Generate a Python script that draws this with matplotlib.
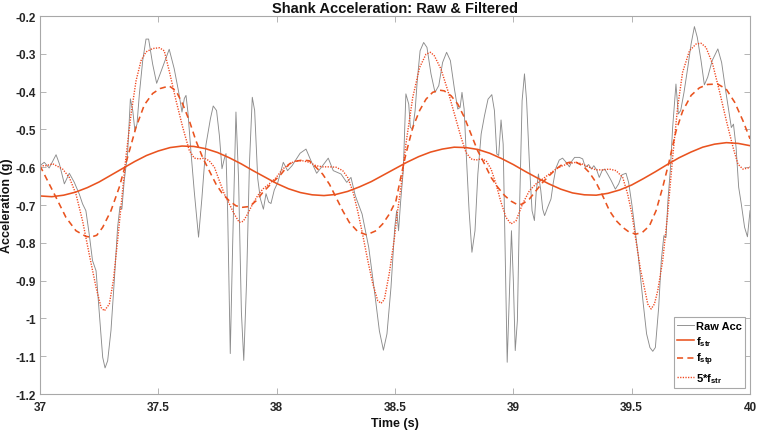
import matplotlib
matplotlib.use("Agg")
import matplotlib.pyplot as plt
from matplotlib.ticker import FuncFormatter

plt.rcParams['font.family'] = ['Liberation Sans', 'DejaVu Sans']
plt.rcParams['font.weight'] = 'bold'
plt.rcParams['axes.unicode_minus'] = False
plt.rcParams['mathtext.fontset'] = 'custom'
plt.rcParams['mathtext.rm'] = 'Liberation Sans:bold'
plt.rcParams['mathtext.bf'] = 'Liberation Sans:bold'
plt.rcParams['mathtext.it'] = 'Liberation Sans:bold'

# ---------------- data ----------------
raw_time = [37.000, 37.018, 37.039, 37.068, 37.082, 37.103, 37.124, 37.145, 37.166, 37.180,
            37.194, 37.208, 37.222, 37.237, 37.251, 37.265, 37.275, 37.286, 37.300, 37.314,
            37.328, 37.338, 37.346, 37.356, 37.370, 37.382, 37.392, 37.401, 37.410, 37.420,
            37.434, 37.448, 37.459, 37.476, 37.493, 37.546, 37.567, 37.586, 37.600, 37.610,
            37.617, 37.625, 37.638, 37.652, 37.670, 37.684, 37.701, 37.720, 37.732, 37.746,
            37.758, 37.769, 37.779, 37.786, 37.793, 37.804, 37.814, 37.828, 37.839, 37.851,
            37.861, 37.873, 37.885, 37.897, 37.907, 37.920, 37.931, 37.944, 37.955, 37.966,
            37.976, 37.990, 38.005, 38.028, 38.046, 38.065, 38.099, 38.124, 38.145, 38.169,
            38.194, 38.218, 38.239, 38.272, 38.296, 38.314, 38.332, 38.361, 38.389, 38.413,
            38.434, 38.451, 38.466, 38.483, 38.499, 38.507, 38.515, 38.524, 38.535, 38.546,
            38.558, 38.565, 38.575, 38.585, 38.594, 38.606, 38.621, 38.635, 38.652, 38.669,
            38.685, 38.701, 38.718, 38.734, 38.751, 38.765, 38.775, 38.783, 38.792, 38.801,
            38.813, 38.825, 38.838, 38.850, 38.864, 38.878, 38.893, 38.909, 38.920, 38.930,
            38.938, 38.948, 38.957, 38.965, 38.974, 38.983, 38.992, 39.000, 39.008, 39.017,
            39.025, 39.037, 39.047, 39.056, 39.068, 39.079, 39.089, 39.097, 39.106, 39.116,
            39.124, 39.132, 39.145, 39.159, 39.169, 39.180, 39.194, 39.208, 39.223, 39.237,
            39.248, 39.259, 39.279, 39.293, 39.304, 39.318, 39.330, 39.340, 39.352, 39.363,
            39.375, 39.386, 39.400, 39.414, 39.431, 39.445, 39.459, 39.476, 39.487, 39.501,
            39.515, 39.527, 39.549, 39.563, 39.577, 39.589, 39.600, 39.614, 39.625, 39.636,
            39.645, 39.653, 39.663, 39.673, 39.687, 39.697, 39.707, 39.721, 39.737, 39.751,
            39.765, 39.777, 39.793, 39.807, 39.821, 39.840, 39.864, 39.880, 39.896, 39.910,
            39.921, 39.930, 39.941, 39.952, 39.963, 39.977, 39.989, 40.000]
raw_acc = [-0.596, -0.587, -0.602, -0.567, -0.591, -0.644, -0.616, -0.640, -0.671, -0.697,
           -0.715, -0.777, -0.847, -0.874, -0.988, -1.103, -1.131, -1.112, -1.032, -0.900,
           -0.759, -0.704, -0.711, -0.635, -0.565, -0.419, -0.450, -0.503, -0.486, -0.406,
           -0.318, -0.261, -0.261, -0.327, -0.378, -0.288, -0.339, -0.401, -0.454, -0.418,
           -0.410, -0.454, -0.560, -0.665, -0.785, -0.683, -0.542, -0.472, -0.438, -0.450,
           -0.516, -0.604, -0.577, -0.564, -0.719, -1.093, -0.807, -0.454, -0.630, -0.983,
           -1.111, -0.900, -0.591, -0.415, -0.450, -0.630, -0.683, -0.711, -0.670, -0.692,
           -0.696, -0.660, -0.640, -0.587, -0.609, -0.596, -0.563, -0.552, -0.583, -0.616,
           -0.596, -0.576, -0.609, -0.618, -0.640, -0.627, -0.675, -0.724, -0.812, -0.927,
           -1.033, -1.084, -1.041, -0.918, -0.759, -0.715, -0.768, -0.689, -0.609, -0.406,
           -0.433, -0.495, -0.499, -0.450, -0.371, -0.292, -0.270, -0.283, -0.353, -0.402,
           -0.384, -0.323, -0.296, -0.318, -0.393, -0.446, -0.442, -0.402, -0.446, -0.565,
           -0.715, -0.825, -0.768, -0.618, -0.512, -0.464, -0.420, -0.408, -0.450, -0.565,
           -0.569, -0.475, -0.539, -0.812, -1.116, -0.944, -0.768, -0.900, -1.085, -1.006,
           -0.741, -0.424, -0.353, -0.424, -0.592, -0.715, -0.741, -0.662, -0.618, -0.662,
           -0.711, -0.728, -0.706, -0.684, -0.640, -0.602, -0.581, -0.576, -0.587, -0.599,
           -0.583, -0.574, -0.574, -0.578, -0.600, -0.593, -0.605, -0.596, -0.607, -0.627,
           -0.609, -0.605, -0.620, -0.636, -0.658, -0.644, -0.620, -0.616, -0.640, -0.700,
           -0.770, -0.830, -0.962, -1.041, -1.077, -1.087, -1.077, -0.971, -0.847, -0.781,
           -0.786, -0.689, -0.609, -0.495, -0.380, -0.459, -0.450, -0.402, -0.336, -0.274,
           -0.228, -0.256, -0.318, -0.382, -0.362, -0.318, -0.287, -0.323, -0.393, -0.450,
           -0.495, -0.486, -0.547, -0.653, -0.697, -0.759, -0.784, -0.715]

fstr_time = [37.00, 37.05, 37.10, 37.15, 37.20, 37.25, 37.30, 37.35, 37.40, 37.45,
             37.50, 37.55, 37.60, 37.65, 37.70, 37.75, 37.80, 37.85, 37.90, 37.95,
             38.00, 38.05, 38.10, 38.15, 38.20, 38.25, 38.30, 38.35, 38.40, 38.45,
             38.50, 38.55, 38.60, 38.65, 38.70, 38.75, 38.80, 38.85, 38.90, 38.95,
             39.00, 39.05, 39.10, 39.15, 39.20, 39.25, 39.30, 39.35, 39.40, 39.45,
             39.50, 39.55, 39.60, 39.65, 39.70, 39.75, 39.80, 39.85, 39.90, 39.95, 40.00]
fstr_acc = [-0.676, -0.678, -0.674, -0.666, -0.654, -0.639, -0.621, -0.603, -0.585, -0.569,
            -0.557, -0.548, -0.544, -0.545, -0.551, -0.561, -0.575, -0.591, -0.609, -0.626,
            -0.643, -0.657, -0.667, -0.673, -0.675, -0.672, -0.664, -0.652, -0.638, -0.621,
            -0.604, -0.587, -0.572, -0.560, -0.552, -0.547, -0.548, -0.553, -0.563, -0.577,
            -0.593, -0.611, -0.628, -0.644, -0.658, -0.668, -0.673, -0.674, -0.669, -0.660,
            -0.647, -0.630, -0.612, -0.593, -0.575, -0.560, -0.547, -0.539, -0.535, -0.537, -0.543]

fstp_time = [37.000, 37.025, 37.068, 37.110, 37.152, 37.194, 37.215, 37.240, 37.265, 37.300,
             37.335, 37.370, 37.406, 37.441, 37.476, 37.507, 37.546, 37.575, 37.603, 37.631,
             37.659, 37.687, 37.715, 37.744, 37.772, 37.800, 37.828, 37.856, 37.885, 37.913,
             37.941, 37.976, 38.014, 38.054, 38.082, 38.110, 38.138, 38.166, 38.194, 38.223,
             38.251, 38.279, 38.307, 38.342, 38.380, 38.420, 38.448, 38.476, 38.504, 38.525,
             38.546, 38.575, 38.604, 38.631, 38.659, 38.687, 38.708, 38.737, 38.765, 38.793,
             38.821, 38.849, 38.878, 38.906, 38.934, 38.963, 38.991, 39.020, 39.039, 39.068,
             39.096, 39.124, 39.152, 39.180, 39.208, 39.237, 39.265, 39.293, 39.321, 39.349,
             39.377, 39.406, 39.434, 39.462, 39.490, 39.518, 39.546, 39.575, 39.603, 39.631,
             39.659, 39.687, 39.715, 39.751, 39.786, 39.821, 39.863, 39.899, 39.935, 39.970, 40.000]
fstp_acc = [-0.596, -0.627, -0.680, -0.733, -0.768, -0.783, -0.785, -0.780, -0.759, -0.715,
            -0.653, -0.574, -0.494, -0.435, -0.405, -0.392, -0.385, -0.398, -0.433, -0.477,
            -0.530, -0.574, -0.609, -0.645, -0.671, -0.689, -0.702, -0.706, -0.704, -0.689,
            -0.667, -0.644, -0.622, -0.591, -0.584, -0.581, -0.583, -0.600, -0.618, -0.645,
            -0.680, -0.715, -0.746, -0.770, -0.779, -0.768, -0.750, -0.724, -0.689, -0.625,
            -0.565, -0.495, -0.450, -0.420, -0.402, -0.396, -0.398, -0.411, -0.433, -0.468,
            -0.512, -0.556, -0.591, -0.627, -0.653, -0.675, -0.690, -0.700, -0.697, -0.684,
            -0.662, -0.640, -0.622, -0.605, -0.592, -0.587, -0.587, -0.596, -0.614, -0.640,
            -0.675, -0.715, -0.741, -0.759, -0.772, -0.777, -0.772, -0.755, -0.715, -0.653,
            -0.583, -0.505, -0.452, -0.410, -0.390, -0.381, -0.380, -0.393, -0.428, -0.477, -0.525]

f5_time = [37.000, 37.025, 37.054, 37.096, 37.124, 37.152, 37.180, 37.208, 37.237, 37.258,
           37.272, 37.293, 37.310, 37.328, 37.346, 37.363, 37.385, 37.406, 37.427, 37.448,
           37.476, 37.505, 37.525, 37.546, 37.575, 37.603, 37.631, 37.652, 37.673, 37.694,
           37.715, 37.737, 37.758, 37.779, 37.800, 37.821, 37.842, 37.859, 37.877, 37.899,
           37.920, 37.941, 37.969, 37.997, 38.025, 38.054, 38.082, 38.110, 38.138, 38.166,
           38.194, 38.223, 38.251, 38.279, 38.300, 38.321, 38.342, 38.363, 38.385, 38.406,
           38.427, 38.441, 38.455, 38.476, 38.497, 38.510, 38.525, 38.546, 38.575, 38.604,
           38.631, 38.650, 38.666, 38.694, 38.723, 38.751, 38.779, 38.800, 38.821, 38.842,
           38.863, 38.885, 38.906, 38.927, 38.948, 38.969, 38.990, 39.011, 39.039, 39.068,
           39.096, 39.124, 39.152, 39.180, 39.208, 39.237, 39.265, 39.293, 39.321, 39.349,
           39.377, 39.406, 39.434, 39.462, 39.483, 39.501, 39.518, 39.537, 39.553, 39.568,
           39.582, 39.596, 39.610, 39.631, 39.652, 39.673, 39.694, 39.715, 39.744, 39.772,
           39.793, 39.814, 39.842, 39.870, 39.900, 39.928, 39.949, 39.970, 39.992, 40.000]
f5_acc = [-0.596, -0.596, -0.591, -0.605, -0.627, -0.671, -0.742, -0.830, -0.918, -0.971,
          -0.980, -0.962, -0.900, -0.794, -0.680, -0.574, -0.459, -0.371, -0.318, -0.295,
          -0.286, -0.284, -0.292, -0.345, -0.424, -0.494, -0.556, -0.576, -0.578, -0.576,
          -0.583, -0.600, -0.636, -0.671, -0.697, -0.724, -0.746, -0.743, -0.724, -0.697,
          -0.675, -0.658, -0.644, -0.628, -0.605, -0.591, -0.583, -0.583, -0.587, -0.596,
          -0.599, -0.599, -0.600, -0.609, -0.627, -0.662, -0.715, -0.777, -0.847, -0.908,
          -0.953, -0.960, -0.950, -0.880, -0.790, -0.720, -0.653, -0.539, -0.415, -0.336,
          -0.301, -0.296, -0.305, -0.340, -0.397, -0.459, -0.521, -0.561, -0.578, -0.581,
          -0.578, -0.583, -0.605, -0.645, -0.693, -0.733, -0.750, -0.742, -0.697, -0.662,
          -0.644, -0.631, -0.618, -0.605, -0.596, -0.590, -0.587, -0.592, -0.600, -0.607,
          -0.607, -0.605, -0.609, -0.627, -0.671, -0.724, -0.794, -0.870, -0.918, -0.962,
          -0.975, -0.962, -0.927, -0.847, -0.724, -0.574, -0.442, -0.349, -0.292, -0.274,
          -0.272, -0.283, -0.327, -0.397, -0.477, -0.547, -0.592, -0.605, -0.602, -0.598]

x_ticks = [37, 37.5, 38, 38.5, 39, 39.5, 40]
y_ticks = [-1.2, -1.1, -1.0, -0.9, -0.8, -0.7, -0.6, -0.5, -0.4, -0.3, -0.2]
series_labels = ['Raw Acc', r'f$_{\mathbf{str}}$', r'f$_{\mathbf{stp}}$', r'5*f$_{\mathbf{str}}$']
title_text = 'Shank Acceleration: Raw & Filtered'
x_label = 'Time (s)'
y_label = 'Acceleration (g)'

# ---------------- figure ----------------
fig = plt.figure(figsize=(7.57, 4.31), dpi=100)
ax = fig.add_axes([0.0528, 0.0835, 0.938, 0.877])

orange = '#E9531F'
ax.plot(raw_time, raw_acc, color='#8c8c8c', lw=0.65, label=series_labels[0])
ax.plot(fstr_time, fstr_acc, color=orange, lw=1.15, label=series_labels[1])
ax.plot(fstp_time, fstp_acc, color=orange, lw=1.15, linestyle=(0, (3.8, 2.7)), label=series_labels[2])
ax.plot(f5_time, f5_acc, color='#F0461E', lw=1.0, linestyle=(0, (0.9, 1.0)), label=series_labels[3])

ax.set_xlim(37, 40)
ax.set_ylim(-1.2, -0.2)
ax.set_xticks(x_ticks)
ax.set_yticks(y_ticks)
fmt = FuncFormatter(lambda v, p: ('%g' % round(v, 3)))
ax.xaxis.set_major_formatter(fmt)
ax.yaxis.set_major_formatter(fmt)

for s in ax.spines.values():
    s.set_color('#a8a8a8')
    s.set_linewidth(0.8)
ax.tick_params(axis='both', direction='in', length=4.3, width=0.6, color='#a8a8a8',
               top=True, right=True, labelsize=8.5, labelcolor='#262626')
ax.tick_params(axis='x', pad=5)
ax.tick_params(axis='y', pad=3)
for lab in ax.get_xticklabels() + ax.get_yticklabels():
    lab.set_fontweight('bold')

ax.set_title(title_text, fontsize=10.5, fontweight='bold', color='#111111', pad=3)
ax.set_xlabel(x_label, fontsize=9, fontweight='bold', color='#111111', labelpad=3)
ax.set_ylabel(y_label, fontsize=9, fontweight='bold', color='#111111', labelpad=2)

leg = ax.legend(loc='lower right', bbox_to_anchor=(0.993, 0.016), borderaxespad=0,
                fancybox=False, framealpha=1, edgecolor='#a8a8a8',
                prop={'weight': 'bold', 'size': 8}, handlelength=1.5, handletextpad=0.2,
                labelspacing=0.3, borderpad=0.3)
leg.get_frame().set_linewidth(0.8)

fig.savefig('out.png', dpi=100)
